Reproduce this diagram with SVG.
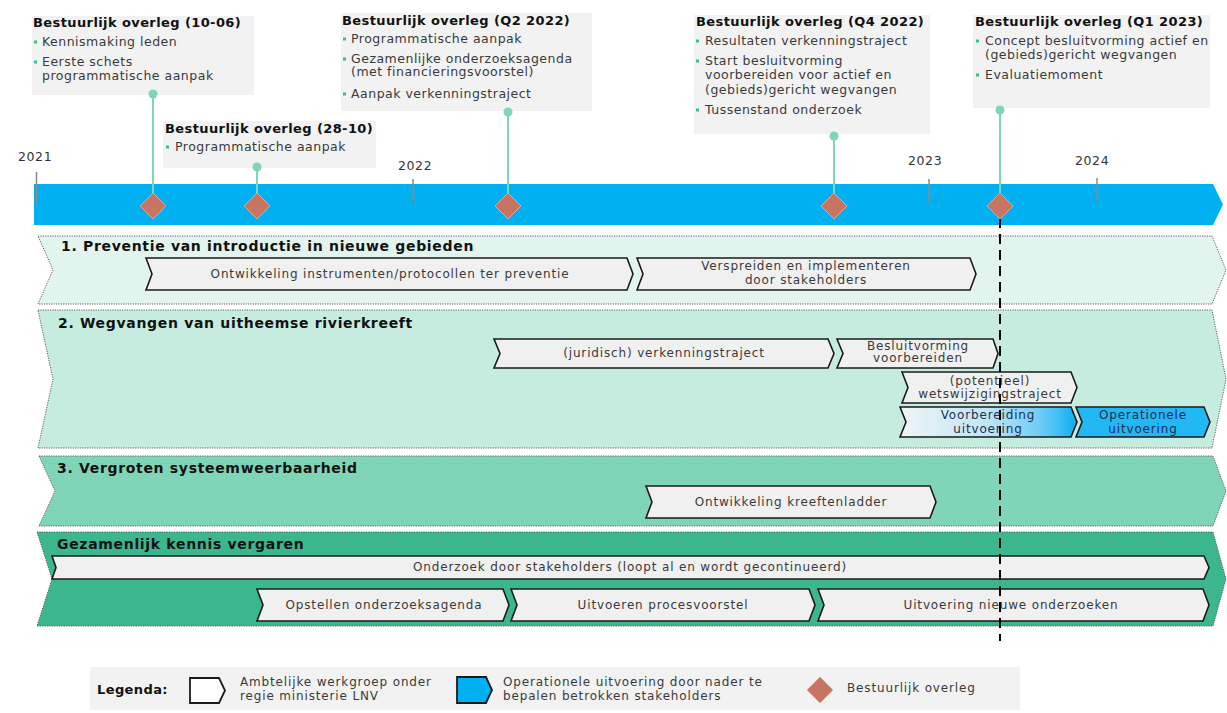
<svg xmlns="http://www.w3.org/2000/svg" width="1227" height="713" viewBox="0 0 1227 713">
<defs>
<style>
.t{font-family:"DejaVu Sans",Verdana,sans-serif;font-weight:bold;font-size:13px;fill:#111;letter-spacing:0.4px}
.b{font-family:"DejaVu Sans",Verdana,sans-serif;font-size:12.5px;fill:#3a3a3a;letter-spacing:0.5px}
.lane{font-family:"DejaVu Sans",Verdana,sans-serif;font-weight:bold;font-size:14px;fill:#111;letter-spacing:0.68px}
.task{font-family:"DejaVu Sans",Verdana,sans-serif;font-size:12px;fill:#3a3a3a;letter-spacing:0.85px;text-anchor:middle}
.yr{font-family:"DejaVu Sans",Verdana,sans-serif;font-size:12.5px;fill:#333;letter-spacing:0.6px}
.leg{font-family:"DejaVu Sans",Verdana,sans-serif;font-size:12px;fill:#3a3a3a;letter-spacing:0.85px}
.call{fill:#f2f2f2}
.bul{fill:#3cbf8c}
.box{fill:#f0f0f0;stroke:#1a1a1a;stroke-width:1.6}
.band{stroke:#5e5e5e;stroke-width:1;stroke-dasharray:1.2 1.2}
.dia{fill:#c87462;stroke:#e0a595;stroke-width:1}
.stem{stroke:#7fd6b4;stroke-width:2;fill:none}
.dot{fill:#7fd6b4}
.tick{stroke:#8a8a8a;stroke-width:1.5}
</style>
<linearGradient id="gv" x1="0" y1="0" x2="1" y2="0">
<stop offset="0" stop-color="#f0f4f6"/>
<stop offset="0.5" stop-color="#bfe5f7"/>
<stop offset="0.8" stop-color="#6cccf5"/>
<stop offset="1" stop-color="#0daef0"/>
</linearGradient>
</defs>
<rect width="1227" height="713" fill="#ffffff"/>

<!-- timeline band -->
<g id="timeline">
<polygon points="34,184 1213,184 1223,204.5 1213,225 34,225" fill="#00b0f0"/>
<line class="tick" x1="36.5" y1="172" x2="36.5" y2="204"/>
<line class="tick" x1="413" y1="179" x2="413" y2="203"/>
<line class="tick" x1="929" y1="179" x2="929" y2="203"/>
<line class="tick" x1="1097" y1="178" x2="1097" y2="202"/>
<text class="yr" x="18" y="161">2021</text>
<text class="yr" x="398" y="170">2022</text>
<text class="yr" x="908" y="165">2023</text>
<text class="yr" x="1075" y="165">2024</text>
</g>

<!-- lanes -->
<g id="lane1">
<polygon class="band" fill="#e2f4ee" points="38,236 1212,236 1226,270 1212,304 38,304 53,270"/>
<text class="lane" x="61" y="251">1. Preventie van introductie in nieuwe gebieden</text>
</g>
<g id="lane2">
<polygon class="band" fill="#c6ecdf" points="38,310 1212,310 1226,379 1212,448 38,448 53,379"/>
<text class="lane" x="58" y="328">2. Wegvangen van uitheemse rivierkreeft</text>
</g>
<g id="lane3">
<polygon class="band" fill="#80d4b7" points="39,456 1213,456 1226,491 1213,526 39,526 55,491"/>
<text class="lane" x="57" y="473">3. Vergroten systeemweerbaarheid</text>
</g>
<g id="lane4">
<polygon class="band" fill="#3bb68f" points="37,532 1213,532 1226,579 1213,626 37,626 52,579"/>
<text class="lane" x="57" y="549">Gezamenlijk kennis vergaren</text>
</g>

<!-- tasks -->
<g id="task-ontwikkeling-instrumenten">
<polygon class="box" points="146,258 627,258 633,274 627,290 146,290 152,274"/>
<text class="task" x="390" y="278">Ontwikkeling instrumenten/protocollen ter preventie</text>
</g>
<g id="task-verspreiden">
<polygon class="box" points="637,258 970,258 976,274 970,290 637,290 643,274"/>
<text class="task" x="806" y="270">Verspreiden en implementeren</text>
<text class="task" x="806" y="284">door stakeholders</text>
</g>
<g id="task-verkenningstraject">
<polygon class="box" points="494,339 828,339 834,353.5 828,368 494,368 500,353.5"/>
<text class="task" x="664" y="357">(juridisch) verkenningstraject</text>
</g>
<g id="task-besluitvorming">
<polygon class="box" points="837,339 993,339 998,353.5 993,368 837,368 843,353.5"/>
<text class="task" x="918" y="350">Besluitvorming</text>
<text class="task" x="918" y="362">voorbereiden</text>
</g>
<g id="task-wetswijziging">
<polygon class="box" points="902,372 1071,372 1077,387.5 1071,403 902,403 908,387.5"/>
<text class="task" x="990" y="385">(potentieel)</text>
<text class="task" x="990" y="398">wetswijzigingstraject</text>
</g>
<g id="task-voorbereiding-uitvoering">
<polygon class="box" style="fill:url(#gv)" points="900,407 1071,407 1077,422 1071,437 900,437 906,422"/>
<text class="task" x="988" y="419" style="fill:#203050">Voorbereiding</text>
<text class="task" x="988" y="433" style="fill:#203050">uitvoering</text>
</g>
<g id="task-operationele-uitvoering">
<polygon class="box" style="fill:#22b8f4" points="1076,407 1204,407 1210,422 1204,437 1076,437 1082,422"/>
<text class="task" x="1143" y="419" style="fill:#1c2c50">Operationele</text>
<text class="task" x="1143" y="433" style="fill:#1c2c50">uitvoering</text>
</g>
<g id="task-kreeftenladder">
<polygon class="box" points="646,486 930,486 936,502 930,518 646,518 652,502"/>
<text class="task" x="791" y="506">Ontwikkeling kreeftenladder</text>
</g>
<g id="task-onderzoek-stakeholders">
<polygon class="box" points="52,556 1204,556 1209,567.5 1204,579 52,579 56,567.5"/>
<text class="task" x="630" y="571">Onderzoek door stakeholders (loopt al en wordt gecontinueerd)</text>
</g>
<g id="task-opstellen">
<polygon class="box" points="257,589 503,589 509,605 503,621 257,621 263,605"/>
<text class="task" x="384" y="609">Opstellen onderzoeksagenda</text>
</g>
<g id="task-uitvoeren">
<polygon class="box" points="511,589 809,589 815,605 809,621 511,621 517,605"/>
<text class="task" x="663" y="609">Uitvoeren procesvoorstel</text>
</g>
<g id="task-uitvoering-onderzoeken">
<polygon class="box" points="818,589 1203,589 1209,605 1203,621 818,621 824,605"/>
<text class="task" x="1011" y="609">Uitvoering nieuwe onderzoeken</text>
</g>

<!-- callouts -->
<g id="overleg-1006">
<rect class="call" x="32" y="16" width="222" height="79"/>
<text class="t" x="33" y="27">Bestuurlijk overleg (10-06)</text>
<rect class="bul" x="34" y="40.5" width="3" height="3"/>
<text class="b" x="42" y="46">Kennismaking leden</text>
<rect class="bul" x="34" y="60.5" width="3" height="3"/>
<text class="b" x="42" y="66">Eerste schets</text>
<text class="b" x="42" y="80">programmatische aanpak</text>
</g>
<g id="overleg-2810">
<rect class="call" x="163" y="121" width="213" height="47"/>
<text class="t" x="165" y="133">Bestuurlijk overleg (28-10)</text>
<rect class="bul" x="166" y="145.5" width="3" height="3"/>
<text class="b" x="175" y="151">Programmatische aanpak</text>
</g>
<g id="overleg-q2-2022">
<rect class="call" x="341" y="13" width="251" height="98"/>
<text class="t" x="342" y="25">Bestuurlijk overleg (Q2 2022)</text>
<rect class="bul" x="343" y="37.5" width="3" height="3"/>
<text class="b" x="351" y="43">Programmatische aanpak</text>
<rect class="bul" x="343" y="57.5" width="3" height="3"/>
<text class="b" x="351" y="63">Gezamenlijke onderzoeksagenda</text>
<text class="b" x="351" y="76">(met financieringsvoorstel)</text>
<rect class="bul" x="343" y="92.5" width="3" height="3"/>
<text class="b" x="351" y="98">Aanpak verkenningstraject</text>
</g>
<g id="overleg-q4-2022">
<rect class="call" x="694" y="15" width="236" height="119"/>
<text class="t" x="696" y="26">Bestuurlijk overleg (Q4 2022)</text>
<rect class="bul" x="696" y="39.5" width="3" height="3"/>
<text class="b" x="705" y="45">Resultaten verkenningstraject</text>
<rect class="bul" x="696" y="59.5" width="3" height="3"/>
<text class="b" x="705" y="65">Start besluitvorming</text>
<text class="b" x="705" y="79">voorbereiden voor actief en</text>
<text class="b" x="705" y="94">(gebieds)gericht wegvangen</text>
<rect class="bul" x="696" y="108.5" width="3" height="3"/>
<text class="b" x="705" y="114">Tussenstand onderzoek</text>
</g>
<g id="overleg-q1-2023">
<rect class="call" x="973" y="15" width="237" height="93"/>
<text class="t" x="975" y="26">Bestuurlijk overleg (Q1 2023)</text>
<rect class="bul" x="976" y="39.5" width="3" height="3"/>
<text class="b" x="985" y="45">Concept besluitvorming actief en</text>
<text class="b" x="985" y="59">(gebieds)gericht wegvangen</text>
<rect class="bul" x="976" y="73.5" width="3" height="3"/>
<text class="b" x="985" y="79">Evaluatiemoment</text>
</g>

<!-- connectors -->
<g id="connectors">
<line class="stem" x1="153" y1="94" x2="153" y2="195"/>
<circle class="dot" cx="153" cy="94" r="4.5"/>
<line class="stem" x1="257" y1="167" x2="257" y2="195"/>
<circle class="dot" cx="257" cy="167" r="4.5"/>
<line class="stem" x1="508" y1="112" x2="508" y2="195"/>
<circle class="dot" cx="508" cy="112" r="4.5"/>
<line class="stem" x1="834" y1="136" x2="834" y2="195"/>
<circle class="dot" cx="834" cy="136" r="4.5"/>
<line class="stem" x1="1000" y1="110" x2="1000" y2="195"/>
<circle class="dot" cx="1000" cy="110" r="4.5"/>
<line x1="1000" y1="218" x2="1000" y2="641" stroke="#000" stroke-width="2" stroke-dasharray="10 6"/>
</g>

<!-- milestones -->
<g id="milestones">
<polygon class="dia" points="153,193 166,206 153,219 140,206"/>
<polygon class="dia" points="257,193 270,206 257,219 244,206"/>
<polygon class="dia" points="508,193 521,206 508,219 495,206"/>
<polygon class="dia" points="834,193 847,206 834,219 821,206"/>
<polygon class="dia" points="1000,193 1013,206 1000,219 987,206"/>
</g>

<!-- legend -->
<g id="legend">
<rect x="90" y="667" width="930" height="43" fill="#f2f2f2"/>
<text class="lane" x="97" y="694" style="font-size:13px;letter-spacing:0.4px">Legenda:</text>
<polygon points="190,678 219,678 225,690.5 219,703 190,703" fill="#ffffff" stroke="#1a1a1a" stroke-width="1.8"/>
<text class="leg" x="240" y="686">Ambtelijke werkgroep onder</text>
<text class="leg" x="240" y="700">regie ministerie LNV</text>
<polygon points="457,677 486,677 492,690 486,703 457,703" fill="#00b0f0" stroke="#1a1a1a" stroke-width="1.8"/>
<text class="leg" x="503" y="686">Operationele uitvoering door nader te</text>
<text class="leg" x="503" y="700">bepalen betrokken stakeholders</text>
<polygon class="dia" points="820,677 833,690 820,703 807,690"/>
<text class="leg" x="847" y="692">Bestuurlijk overleg</text>
</g>
</svg>
